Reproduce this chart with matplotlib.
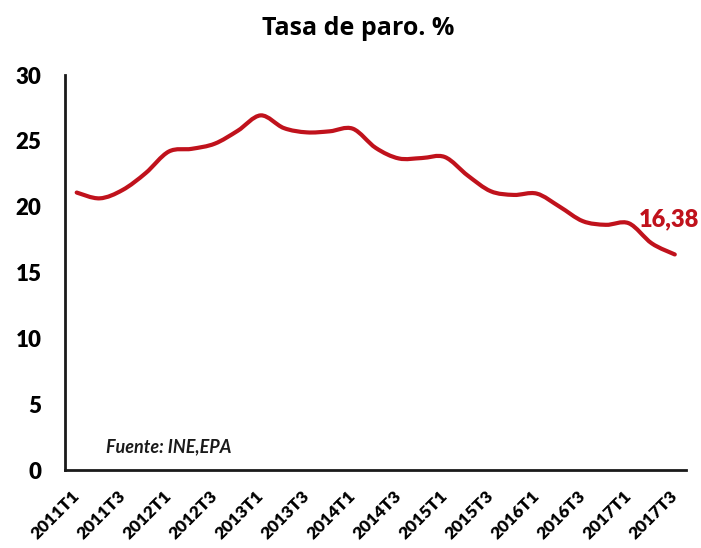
import matplotlib
matplotlib.use("Agg")
import matplotlib.pyplot as plt
from matplotlib.path import Path
from matplotlib.patches import PathPatch
import numpy as np

# EPA quarterly unemployment rate
quarters = ["2011T1", "2011T2", "2011T3", "2011T4",
            "2012T1", "2012T2", "2012T3", "2012T4",
            "2013T1", "2013T2", "2013T3", "2013T4",
            "2014T1", "2014T2", "2014T3", "2014T4",
            "2015T1", "2015T2", "2015T3", "2015T4",
            "2016T1", "2016T2", "2016T3", "2016T4",
            "2017T1", "2017T2", "2017T3"]
paro = [21.08, 20.64, 21.28, 22.56,
        24.19, 24.40, 24.79, 25.77,
        26.94, 25.98, 25.65, 25.73,
        25.93, 24.47, 23.67, 23.70,
        23.78, 22.37, 21.18, 20.90,
        21.00, 20.00, 18.91, 18.63,
        18.75, 17.22, 16.38]
last_label = "16,38"

red = "#c0121c"
plt.rcParams["font.family"] = ["Lato", "DejaVu Sans"]

fig = plt.figure(figsize=(7.01, 5.48), dpi=100)
ax = fig.add_axes([0.093, 0.142, 0.886, 0.721])

x = np.arange(len(paro))
y = np.array(paro)

# smoothed line: cubic bezier segments (catmull-rom style, like spreadsheet smoothing)
pts = np.column_stack([x, y])
ext = np.vstack([pts[0], pts, pts[-1]])
verts = [tuple(pts[0])]
codes = [Path.MOVETO]
for i in range(len(pts) - 1):
    p0, p1, p2, p3 = ext[i], ext[i + 1], ext[i + 2], ext[i + 3]
    c1 = p1 + (p2 - p0) / 6.0
    c2 = p2 - (p3 - p1) / 6.0
    verts += [tuple(c1), tuple(c2), tuple(p2)]
    codes += [Path.CURVE4] * 3
ax.add_patch(PathPatch(Path(verts, codes), facecolor="none", edgecolor=red,
                       lw=3.0, capstyle="round", joinstyle="round"))

ax.set_xlim(-0.5, len(paro) - 0.5)
ax.set_ylim(0, 30)
ax.set_yticks(range(0, 31, 5))

for s in ["top", "right"]:
    ax.spines[s].set_visible(False)
for s in ["left", "bottom"]:
    ax.spines[s].set_linewidth(2)
    ax.spines[s].set_color("#1a1a1a")

ax.tick_params(axis="both", length=0)
ax.tick_params(axis="y", labelsize=16, pad=17)
ax.tick_params(axis="x", pad=17)
ax.set_xticks(x[::2])
ax.set_xticklabels(quarters[::2], rotation=45, ha="right", va="center",
                   rotation_mode="anchor", fontsize=12.5, fontweight="heavy")
for lab in ax.get_yticklabels():
    lab.set_fontweight("heavy")

ax.text(x[-1] - 1.55, y[-1] + 2.7, last_label, color=red, fontsize=17,
        fontweight="heavy", ha="left", va="center")
ax.text(0.065, 0.06, "Fuente: INE,EPA", transform=ax.transAxes, fontsize=13,
        style="italic", fontweight="bold", ha="left", va="center",
        color="#1a1a1a")

fig.suptitle("Tasa de paro. %", x=0.511, y=0.97, fontsize=18, fontweight="bold",
             family=["Open Sans", "DejaVu Sans"])

fig.savefig("out.png", dpi=100)
